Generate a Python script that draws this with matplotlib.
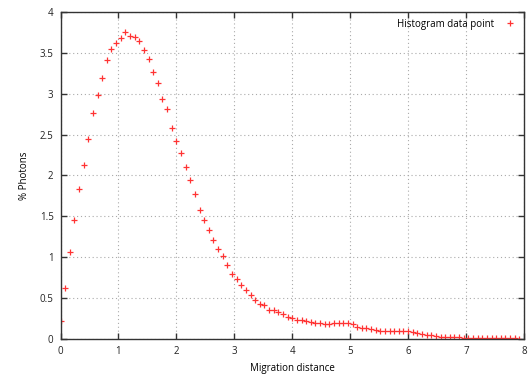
import numpy as np
import matplotlib
matplotlib.use("Agg")
import matplotlib.pyplot as plt

# migration distance samples (step 0.08)
distance = np.arange(100) * 0.08
photons = [0.22, 0.62, 1.06, 1.45, 1.83, 2.13, 2.45, 2.76, 2.98, 3.19,
           3.41, 3.55, 3.62, 3.68, 3.75, 3.71, 3.69, 3.64, 3.54, 3.42,
           3.27, 3.13, 2.93, 2.81, 2.58, 2.42, 2.27, 2.10, 1.94, 1.77,
           1.58, 1.45, 1.33, 1.21, 1.10, 1.01, 0.90, 0.80, 0.73, 0.66,
           0.60, 0.54, 0.48, 0.43, 0.41, 0.36, 0.35, 0.33, 0.30, 0.27,
           0.26, 0.23, 0.23, 0.22, 0.21, 0.20, 0.19, 0.18, 0.18, 0.20,
           0.20, 0.19, 0.19, 0.18, 0.15, 0.14, 0.13, 0.12, 0.11, 0.10,
           0.10, 0.10, 0.10, 0.10, 0.10, 0.10, 0.08, 0.07, 0.06, 0.05,
           0.045, 0.035, 0.03, 0.025, 0.025, 0.02, 0.02, 0.015, 0.012, 0.01,
           0.01, 0.01, 0.01, 0.01, 0.01, 0.01, 0.01, 0.01, 0.008, 0.005]

xticks = [0, 1, 2, 3, 4, 5, 6, 7, 8]
yticks = [0, 0.5, 1, 1.5, 2, 2.5, 3, 3.5, 4]
ytickLabels = ["0", "0.5", "1", "1.5", "2", "2.5", "3", "3.5", "4"]

plt.rcParams['font.family'] = ['Open Sans', 'DejaVu Sans']
plt.rcParams['font.size'] = 7

fig = plt.figure(figsize=(5.30, 3.77), dpi=100)
ax = fig.add_axes([60.5 / 530, 1 - 339 / 377, (524 - 60.5) / 530, (339 - 12) / 377])

ax.plot(distance, photons, linestyle="none", marker="+", color="#ff3333",
        markersize=4.5, markeredgewidth=0.9, label="Histogram data point")

ax.set_xlim(0, 8)
ax.set_ylim(0, 4)
ax.set_xticks(xticks)
ax.set_yticks(yticks)
ax.set_yticklabels(ytickLabels)
ax.tick_params(direction="in", top=True, right=True, length=4, width=1,
               color="#333333", labelcolor="#222222", pad=5)
ax.grid(True, linestyle=(0, (1, 2.5)), color="#aaaaaa", linewidth=0.8)
for s in ax.spines.values():
    s.set_color("#333333")
    s.set_linewidth(1.0)

ax.set_xlabel("Migration distance", fontsize=7, labelpad=4)
ax.set_ylabel("% Photons", fontsize=7, labelpad=7)

ax.legend(loc="upper right", frameon=False, markerfirst=False, fontsize=7,
          handlelength=1.5, handletextpad=0.9, borderaxespad=0.3)

fig.savefig("out.png", dpi=100)
